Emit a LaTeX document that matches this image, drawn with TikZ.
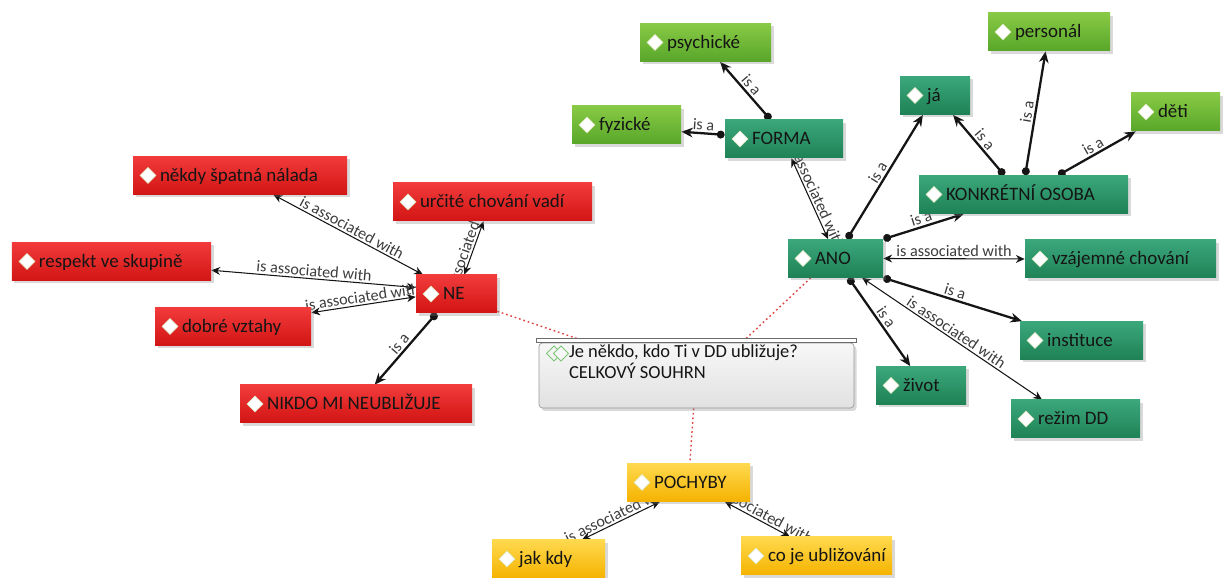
\documentclass[tikz,border=0pt]{standalone}
\usepackage{fontspec}
\setmainfont{Carlito}
\usepackage{xcolor}
\usepackage{tikz}
\usetikzlibrary{arrows.meta,backgrounds,shadows}
\definecolor{mmInk}{HTML}{151515}
\definecolor{mmLabel}{HTML}{3C3C3C}
\definecolor{mmRedTop}{HTML}{F23B3B}
\definecolor{mmRedBot}{HTML}{D21414}
\definecolor{mmLimeTop}{HTML}{88CA45}
\definecolor{mmLimeBot}{HTML}{58A62A}
\definecolor{mmTealTop}{HTML}{3BA77B}
\definecolor{mmTealBot}{HTML}{1E8256}
\definecolor{mmGoldTop}{HTML}{FFD94E}
\definecolor{mmGoldBot}{HTML}{F5B300}
\definecolor{mmGrayTop}{HTML}{F7F7F7}
\definecolor{mmGrayBot}{HTML}{E1E1E1}
\definecolor{mmGrayEdge}{HTML}{9A9A9A}
\definecolor{mmIcon}{HTML}{7CC576}
\definecolor{mmIconEdge}{HTML}{D9E6B8}
\definecolor{mmDot}{HTML}{E04545}
\tikzset{
  % Concept box: gradient, shadow, white diamond icon
  cbox/.style={rectangle,text width=#1,minimum height=0.76cm,
    inner xsep=0.1cm,inner ysep=0pt,text height=0.24cm,text depth=0pt,
    align=left,font=\fontsize{10.8}{12}\selectfont,text=mmInk,
    drop shadow={opacity=0.3,shadow xshift=0.05cm,shadow yshift=-0.06cm},
    path picture={\filldraw[fill=white,draw=mmIconEdge,line width=0.3pt]
      ([xshift=0.3cm]path picture bounding box.west)
      +(-0.16,0) -- +(0,0.16) -- +(0.16,0) -- +(0,-0.16) -- cycle;},
    execute at begin node={\spaceskip=0pt\xspaceskip=0pt\hspace*{0.44cm}}},
  % Red concept (NE branch)
  rbox/.style={cbox=#1,top color=mmRedTop,bottom color=mmRedBot},
  % Lime concept (leaves of FORMA / OSOBA)
  lbox/.style={cbox=#1,top color=mmLimeTop,bottom color=mmLimeBot},
  % Teal concept (ANO branch)
  tbox/.style={cbox=#1,top color=mmTealTop,bottom color=mmTealBot},
  % Gold concept (POCHYBY branch)
  ybox/.style={cbox=#1,top color=mmGoldTop,bottom color=mmGoldBot},
  % Central topic (gray)
  topic/.style={rectangle,rounded corners=2pt,text width=5.1cm,
    inner xsep=0.6cm,inner ysep=0pt,text height=0.3cm,text depth=1.0cm,
    align=left,font=\fontsize{10.5}{11.5}\selectfont,text=mmInk,
    top color=mmGrayTop,bottom color=mmGrayBot,draw=mmGrayEdge,line width=0.4pt,
    drop shadow={opacity=0.3,shadow xshift=0.05cm,shadow yshift=-0.06cm},
    path picture={
      \draw[sharp corners,mmIcon,line width=0.5pt]
        ([xshift=0.3cm,yshift=-0.21cm]path picture bounding box.north west)
        +(-0.15,0) -- +(0,0.15) -- +(0.15,0) -- +(0,-0.15) -- cycle;
      \filldraw[sharp corners,fill=mmGrayTop,draw=mmIcon,line width=0.5pt]
        ([xshift=0.44cm,yshift=-0.21cm]path picture bounding box.north west)
        +(-0.15,0) -- +(0,0.15) -- +(0.15,0) -- +(0,-0.15) -- cycle;},
    execute at begin node={\spaceskip=0pt\xspaceskip=0pt}},
  % Arrows
  isa/.style={{Circle[length=4.5pt]}-{Stealth[length=6.5pt,width=5.5pt]},
    line width=1.3pt,color=mmInk},
  assoc/.style={{Stealth[length=5pt,width=4.5pt]}-{Stealth[length=5pt,width=4.5pt]},
    line width=0.6pt,color=mmInk},
  dotl/.style={line width=0.8pt,dash pattern=on 1pt off 1.6pt,color=mmDot},
  lbl/.style={font=\fontsize{9.2}{10}\selectfont,text=mmLabel,inner sep=1pt,
    sloped,above},
}
\begin{document}
\begin{tikzpicture}
  \useasboundingbox (0,0) rectangle (24.5,11.56);

  % central topic
  \node[topic] (cen) at (13.93,4.05)
    {Je někdo, kdo Ti v DD ubližuje?\\CELKOVÝ SOUHRN};
  \draw[draw=mmGrayEdge!70!black,fill=white,line width=0.4pt]
    ([xshift=-0.04cm]cen.north west) rectangle ([xshift=0.04cm,yshift=0.09cm]cen.north east);

  % NE branch
  \node[rbox=4.08cm] (nalada) at (4.80,8.05) {někdy špatná nálada};
  \node[rbox=3.78cm] (chovani) at (9.85,7.52) {určité chování vadí};
  \node[rbox=3.78cm] (respekt) at (2.23,6.33) {respekt ve skupině};
  \node[rbox=1.42cm] (ne) at (9.13,5.68) {NE};
  \node[rbox=2.92cm] (vztahy) at (4.66,5.03) {dobré vztahy};
  \node[rbox=4.44cm] (nikdo) at (7.12,3.48) {NIKDO MI NEUBLIŽUJE};

  % POCHYBY branch
  \node[ybox=2.26cm] (pochyby) at (13.77,1.91) {POCHYBY};
  \node[ybox=2.06cm] (jakkdy) at (10.97,0.38) {jak kdy};
  \node[ybox=2.82cm] (coje) at (16.33,0.44) {co je ubližování};

  % ANO branch
  \node[lbox=2.42cm] (psychicke) at (14.11,10.71) {psychické};
  \node[lbox=1.98cm] (fyzicke) at (12.53,9.06) {fyzické};
  \node[tbox=2.16cm] (forma) at (15.68,8.78) {FORMA};
  \node[tbox=1.70cm] (ano) at (16.71,6.39) {ANO};
  \node[tbox=1.20cm] (ja) at (18.70,9.65) {já};
  \node[lbox=2.24cm] (personal) at (20.98,10.92) {personál};
  \node[lbox=1.58cm] (deti) at (23.51,9.32) {děti};
  \node[tbox=3.98cm] (osoba) at (20.47,7.67) {KONKRÉTNÍ OSOBA};
  \node[tbox=3.62cm] (vzajemne) at (22.41,6.38) {vzájemné chování};
  \node[tbox=2.26cm] (instituce) at (21.63,4.75) {instituce};
  \node[tbox=1.60cm] (zivot) at (18.42,3.85) {život};
  \node[tbox=2.38cm] (rezim) at (21.51,3.18) {režim DD};

  \begin{scope}[on background layer]
    \draw[dotl] (ne.337) -- (cen.163);
    \draw[dotl] (ano.218) -- (cen.36);
    \draw[dotl] (cen.265) -- (pochyby.86);

    \draw[assoc] (ne.150) -- node[lbl] {is associated with} (nalada.330);
    \draw[assoc] (ne.68) -- node[lbl] {is associated with} (chovani.245);
    \draw[assoc] (ne.171) -- node[lbl] {is associated with} (respekt.355);
    \draw[assoc] (ne.184) -- node[lbl] {is associated with} (vztahy.10);
    \draw[isa] (ne.224) -- node[lbl] {is a} (nikdo.46);

    \draw[assoc] (pochyby.214) -- node[lbl] {is associated with} (jakkdy.30);
    \draw[assoc] (pochyby.332) -- node[lbl] {is associated with} (coje.144);

    \draw[isa] (forma.125) -- node[lbl] {is a} (psychicke.307);
    \draw[isa] (forma.176) -- node[lbl] {is a} (fyzicke.353);
    \draw[assoc] (forma.291) -- node[lbl] {is associated with} (ano.111);
    \draw[isa] (ano.59) -- node[lbl] {is a} (ja.238);
    \draw[isa] (ano.north east) -- node[lbl] {is a} (osoba.198);
    \draw[assoc] (ano.east) -- node[lbl] {is associated with} (vzajemne.west);
    \draw[isa] (ano.south east) -- node[lbl] {is a} (instituce.162);
    \draw[isa] (ano.304) -- node[lbl] {is a} (zivot.119);
    \draw[assoc] (ano.324) -- node[lbl] {is associated with} (rezim.150);
    \draw[isa] (osoba.135) -- node[lbl] {is a} (ja.313);
    \draw[isa] (osoba.85) -- node[lbl] {is a} (personal.260);
    \draw[isa] (osoba.29) -- node[lbl] {is a} (deti.206);
  \end{scope}
\end{tikzpicture}
\end{document}
